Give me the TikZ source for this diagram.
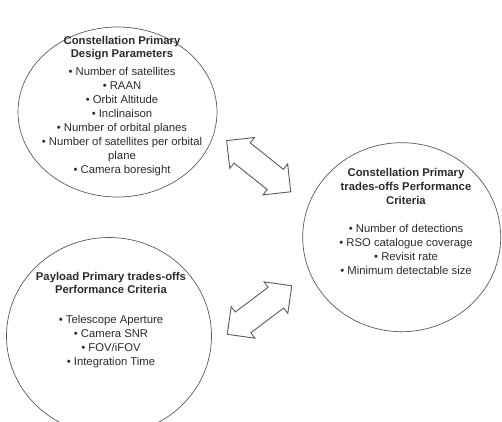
\documentclass[tikz,border=0pt]{standalone}
\usepackage{fontspec}
\setmainfont{Liberation Sans}
\definecolor{lineGray}{HTML}{5A5A5A}
\definecolor{textDark}{HTML}{2B2B2B}
\usepackage{tikz}
\usetikzlibrary{calc, positioning, shapes.geometric, shapes.arrows}

\tikzset{
  bubble/.style={draw=lineGray, line width=0.7pt, ellipse, inner sep=0pt},
  bubbletext/.style={text=textDark, align=center, inner sep=0pt,
                     font=\fontsize{11.3}{14}\selectfont},
  tradearrow/.style={draw=lineGray, line width=0.9pt, shape=double arrow,
                     double arrow head extend=6.8pt, double arrow tip angle=90,
                     inner xsep=0pt, inner ysep=12.5pt, minimum width=38.6pt}
}

\begin{document}
\begin{tikzpicture}[x=1pt, y=-1pt]
  \useasboundingbox (0,0) rectangle (502,421);

  % the three bubbles
  \node[bubble, minimum width=199pt, minimum height=170pt] (design) at (117.5,112) {};
  \node[bubble, minimum width=198pt, minimum height=189pt] (constTrade) at (401.7,237.2) {};
  \node[bubble, minimum width=205pt, minimum height=197pt] (payload) at (109,336) {};

  \node[bubbletext] (designTxt) at (122,106.5) {%
    \textbf{Constellation Primary}\\[-1pt]
    \textbf{Design Parameters}\\[4pt]
    • Number of satellites\\
    • RAAN\\
    • Orbit Altitude\\
    • Inclinaison\\
    • Number of orbital planes\\
    • Number of satellites per orbital\\
    plane\\
    • Camera boresight};

  \node[bubbletext] (constTxt) at (406,221.3) {%
    \textbf{Constellation Primary}\\
    \textbf{trades-offs Performance}\\
    \textbf{Criteria}\\[14pt]
    • Number of detections\\
    • RSO catalogue coverage\\
    • Revisit rate\\
    • Minimum detectable size};

  \node[bubbletext] (payloadTxt) at (111,320.3) {%
    \textbf{Payload Primary trades-offs}\\[-0.5pt]
    \textbf{Performance Criteria}\\[16pt]
    • Telescope Aperture\\
    • Camera SNR\\
    • FOV/iFOV\\
    • Integration Time};

  % trade-off arrows
  \node[tradearrow, minimum height=82pt, rotate=-38.6] (designLink) at (258.7,166.2) {};
  \node[tradearrow, minimum height=80.7pt, rotate=37] (payloadLink) at (259.5,310) {};
\end{tikzpicture}
\end{document}
